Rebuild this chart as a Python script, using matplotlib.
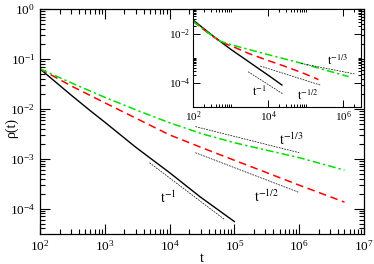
import matplotlib
matplotlib.use("Agg")
import matplotlib.pyplot as plt
from matplotlib.ticker import FixedLocator, NullFormatter, LogLocator
import numpy as np

plt.rcParams['font.family'] = ['Liberation Serif', 'DejaVu Serif']
plt.rcParams['mathtext.fontset'] = 'stix'

# ---------------- main panel data ----------------
t_black = [1e2, 3e2, 6e2, 1e3, 3e3, 1e4, 3e4, 1e5]
rho_black = [0.063, 0.019, 9.1e-3, 5.4e-3, 1.7e-3, 5.25e-4, 1.7e-4, 5.5e-5]

t_red = [1e2, 3.16e2, 1e3, 3.16e3, 1e4, 3.16e4, 1e5, 3.16e5, 1e6, 5e6]
rho_red = [0.063, 0.028, 0.0132, 6.3e-3, 3.0e-3, 1.66e-3, 9.3e-4, 5.25e-4, 2.95e-4, 1.35e-4]

t_green = [1e2, 3.16e2, 1e3, 3.16e3, 1e4, 3.16e4, 1e5, 3.16e5, 1e6, 5e6]
rho_green = [0.063, 0.0324, 0.017, 9.3e-3, 5.25e-3, 3.16e-3, 2.09e-3, 1.48e-3, 1.05e-3, 5.9e-4]

ref1_t = [4.9e3, 7.1e4]
ref1_rho = [8.3e-4, 6.0e-5]
ref2_t = [2.5e4, 1e6]
ref2_rho = [1.32e-3, 2.1e-4]
ref3_t = [2.5e4, 1e6]
ref3_rho = [4.4e-3, 1.32e-3]

# ---------------- inset data ----------------
it_black = [1e2, 3.16e2, 1e3, 3.16e3, 1e4, 2.34e4]
irho_black = [3.55e-2, 8.7e-3, 2.3e-3, 6.8e-4, 2.0e-4, 7.9e-5]

it_red = [1e2, 2.5e2, 5.25e2, 1.17e3, 3.16e3, 1e4, 3.16e4, 1e5, 2.2e5]
irho_red = [3.16e-2, 1.07e-2, 4.7e-3, 2.9e-3, 1.5e-3, 7.9e-4, 4.3e-4, 2.2e-4, 1.32e-4]

it_green = [1e2, 2.5e2, 5.25e2, 1e3, 3.16e3, 1e4, 3.16e4, 1e5, 3.16e5, 1.4e6]
irho_green = [3.16e-2, 1.07e-2, 4.9e-3, 3.55e-3, 2.2e-3, 1.38e-3, 8.7e-4, 5.5e-4, 3.3e-4, 1.74e-4]

iref1_t = [2.95e3, 2.5e4]
iref1_rho = [2.75e-4, 3.4e-5]
iref2_t = [6.2e3, 2.45e5]
iref2_rho = [4.7e-4, 7.9e-5]
iref3_t = [7.6e4, 2e6]
iref3_rho = [6.0e-4, 2.24e-4]

W, H = 374, 264
fig = plt.figure(figsize=(W/100, H/100), dpi=100)

def frac(l, t, r, b):
    return [l/W, (H-b)/H, (r-l)/W, (b-t)/H]

ax = fig.add_axes(frac(40, 9, 364, 234))
ax.set_xscale('log')
ax.set_yscale('log')
ax.set_xlim(1e2, 1e7)
ax.set_ylim(3.1e-5, 1e0)

ax.plot(t_black, rho_black, color='black', lw=1.0)
ax.plot(t_red, rho_red, color='#ff0000', lw=1.1, dashes=(5, 3))
ax.plot(t_green, rho_green, color='#00e000', lw=1.1, dashes=(5, 2, 1.5, 2))
for tt, rr in [(ref1_t, ref1_rho), (ref2_t, ref2_rho), (ref3_t, ref3_rho)]:
    ax.plot(tt, rr, color='black', lw=0.5, dashes=(2.5, 1.5))

ax.text(7e3, 1.3e-4, r'$\mathrm{t}^{-1}$', fontsize=10)
ax.text(2e5, 1.38e-4, r'$\mathrm{t}^{-1/2}$', fontsize=10)
ax.text(4.9e5, 1.9e-3, r'$\mathrm{t}^{-1/3}$', fontsize=10)

ax.set_xlabel('t', fontsize=10)
ax.set_ylabel('ρ(t)', fontsize=10)
ax.xaxis.set_label_coords(0.5, -0.082)
ax.yaxis.set_label_coords(-0.066, 0.47)

ax.xaxis.set_major_locator(LogLocator(base=10, numticks=20))
ax.yaxis.set_major_locator(LogLocator(base=10, numticks=20))
ax.xaxis.set_minor_locator(LogLocator(base=10, subs=np.arange(2, 10), numticks=20))
ax.yaxis.set_minor_locator(LogLocator(base=10, subs=np.arange(2, 10), numticks=20))
ax.xaxis.set_minor_formatter(NullFormatter())
ax.yaxis.set_minor_formatter(NullFormatter())
ax.tick_params(which='both', direction='in', top=True, right=True, labelsize=9.5, width=0.8)
ax.tick_params(which='major', length=7)
ax.tick_params(which='minor', length=3.5)
for s in ax.spines.values():
    s.set_linewidth(0.9)

# ---------------- inset ----------------
ins = fig.add_axes(frac(193, 9, 361, 107))
ins.set_facecolor('white')
ins.set_xscale('log')
ins.set_yscale('log')
ins.set_xlim(1e2, 3e6)
ins.set_ylim(1e-5, 1e-1)

ins.plot(it_black, irho_black, color='black', lw=1.0)
ins.plot(it_red, irho_red, color='#ff0000', lw=1.1, dashes=(5, 3))
ins.plot(it_green, irho_green, color='#00e000', lw=1.1, dashes=(5, 2, 1.5, 2))
for tt, rr in [(iref1_t, iref1_rho), (iref2_t, iref2_rho), (iref3_t, iref3_rho)]:
    ins.plot(tt, rr, color='black', lw=0.5, dashes=(2.5, 1.5))

ins.text(3.7e3, 2.8e-5, r'$\mathrm{t}^{-1}$', fontsize=8.5)
ins.text(5.9e4, 1.95e-5, r'$\mathrm{t}^{-1/2}$', fontsize=8.5)
ins.text(3.7e5, 5.2e-4, r'$\mathrm{t}^{-1/3}$', fontsize=8.5)

ins_xmaj = [1e2, 1e4, 1e6]
ins_ymaj = [1e-4, 1e-2]
ins.xaxis.set_major_locator(FixedLocator(ins_xmaj))
ins.yaxis.set_major_locator(FixedLocator(ins_ymaj))
ins.xaxis.set_minor_locator(FixedLocator([k * m for m in ins_xmaj for k in range(2, 11)]))
ins.yaxis.set_minor_locator(FixedLocator([k * m for m in ins_ymaj for k in range(2, 11)]))
ins.xaxis.set_minor_formatter(NullFormatter())
ins.yaxis.set_minor_formatter(NullFormatter())
ins.tick_params(which='both', direction='in', top=True, right=True, labelsize=8, width=0.7, pad=2)
ins.tick_params(which='major', length=5)
ins.tick_params(which='minor', length=2.5)
for s in ins.spines.values():
    s.set_linewidth(0.8)

fig.savefig('out.png', dpi=100)
